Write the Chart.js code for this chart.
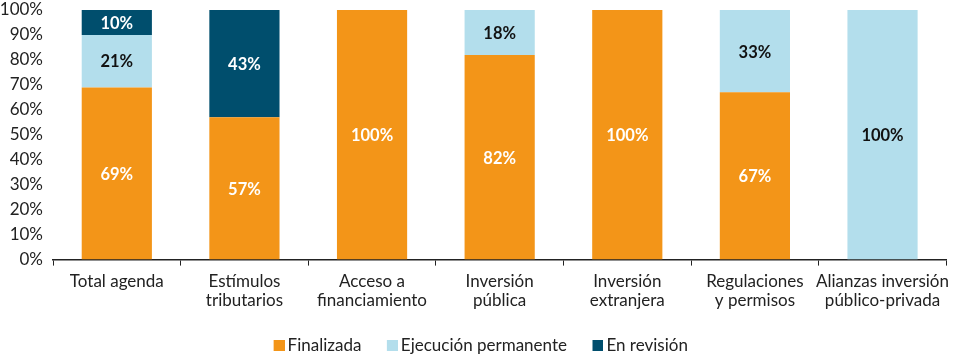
<!DOCTYPE html>
<html>
<head>
<meta charset="utf-8">
<script src="https://cdn.jsdelivr.net/npm/chart.js@4"></script>
<style>
html,body{margin:0;padding:0;background:#fff;}
#wrap{width:956px;height:354px;}
</style>
</head>
<body>
<div id="wrap"><canvas id="c" width="956" height="354"></canvas></div>
<script>
const categories = [
  ["Total agenda"],
  ["Estímulos", "tributarios"],
  ["Acceso a", "financiamiento"],
  ["Inversión", "pública"],
  ["Inversión", "extranjera"],
  ["Regulaciones", "y permisos"],
  ["Alianzas inversión", "público-privada"]
];
const finalizada = [69, 57, 100, 82, 100, 67, 0];
const ejecucion = [21, 0, 0, 18, 0, 33, 100];
const revision = [10, 43, 0, 0, 0, 0, 0];
const yTicks = [0,10,20,30,40,50,60,70,80,90,100];

const FONT = "Lato, 'Open Sans', sans-serif";

function legendSwatch(color) {
  const c = document.createElement('canvas');
  c.width = 22; c.height = 11;
  const g = c.getContext('2d');
  g.fillStyle = color;
  g.fillRect(11, 0, 11, 11);
  return c;
}

const labelPlugin = {
  id: 'segLabels',
  afterDatasetsDraw(chart) {
    const ctx = chart.ctx;
    ctx.save();
    ctx.font = "bold 16.5px " + FONT;
    ctx.textAlign = 'center';
    ctx.textBaseline = 'middle';
    chart.data.datasets.forEach((ds, di) => {
      const meta = chart.getDatasetMeta(di);
      meta.data.forEach((bar, i) => {
        const v = ds.data[i];
        if (!v) return;
        const top = Math.min(bar.y, bar.base), bot = Math.max(bar.y, bar.base);
        ctx.fillStyle = ds.labelColor;
        ctx.fillText(v + '%', bar.x, (top + bot) / 2 + 1);
      });
    });
    ctx.restore();
  }
};

new Chart(document.getElementById('c'), {
  type: 'bar',
  data: {
    labels: categories,
    datasets: [
      {label: 'Finalizada', data: finalizada, backgroundColor: '#F39518', labelColor: '#ffffff'},
      {label: 'Ejecución permanente', data: ejecucion, backgroundColor: '#B3DEEC', labelColor: '#111111'},
      {label: 'En revisión', data: revision, backgroundColor: '#004E6D', labelColor: '#ffffff'}
    ]
  },
  options: {
    responsive: false,
    animation: false,
    devicePixelRatio: 1,
    layout: {padding: {left: 0, right: 0, top: 10, bottom: -10}},
    datasets: {bar: {categoryPercentage: 1, barPercentage: 0.55, borderWidth: 0}},
    scales: {
      x: {
        stacked: true,
        grid: {display: true, offset: true, drawOnChartArea: false, drawTicks: true, tickLength: 6, color: '#222', lineWidth: 1},
        border: {display: true, color: '#222', width: 1.5},
        ticks: {color: '#222', font: {family: FONT, size: 17, lineHeight: 1.1}, padding: 7, maxRotation: 0, autoSkip: false}
      },
      y: {
        stacked: true,
        min: 0, max: 100,
        afterBuildTicks(axis) { axis.ticks = yTicks.map(v => ({value: v})); },
        afterFit(axis) { axis.width = 53; axis.paddingTop = 0; axis.paddingBottom = 0; },
        grid: {display: false, drawTicks: false},
        border: {display: false},
        ticks: {color: '#222', font: {family: FONT, size: 17}, padding: 10, autoSkip: false, callback: v => v + '%'}
      }
    },
    plugins: {
      legend: {
        position: 'bottom',
        labels: {
          boxWidth: 11, boxHeight: 11, usePointStyle: true, color: '#222',
          font: {family: FONT, size: 17}, padding: 20,
          generateLabels(chart) {
            const items = Chart.defaults.plugins.legend.labels.generateLabels(chart);
            items.forEach(it => { it.pointStyle = legendSwatch(chart.data.datasets[it.datasetIndex].backgroundColor); });
            return items;
          }
        }
      },
      tooltip: {enabled: false}
    }
  },
  plugins: [labelPlugin]
});
</script>
</body>
</html>
